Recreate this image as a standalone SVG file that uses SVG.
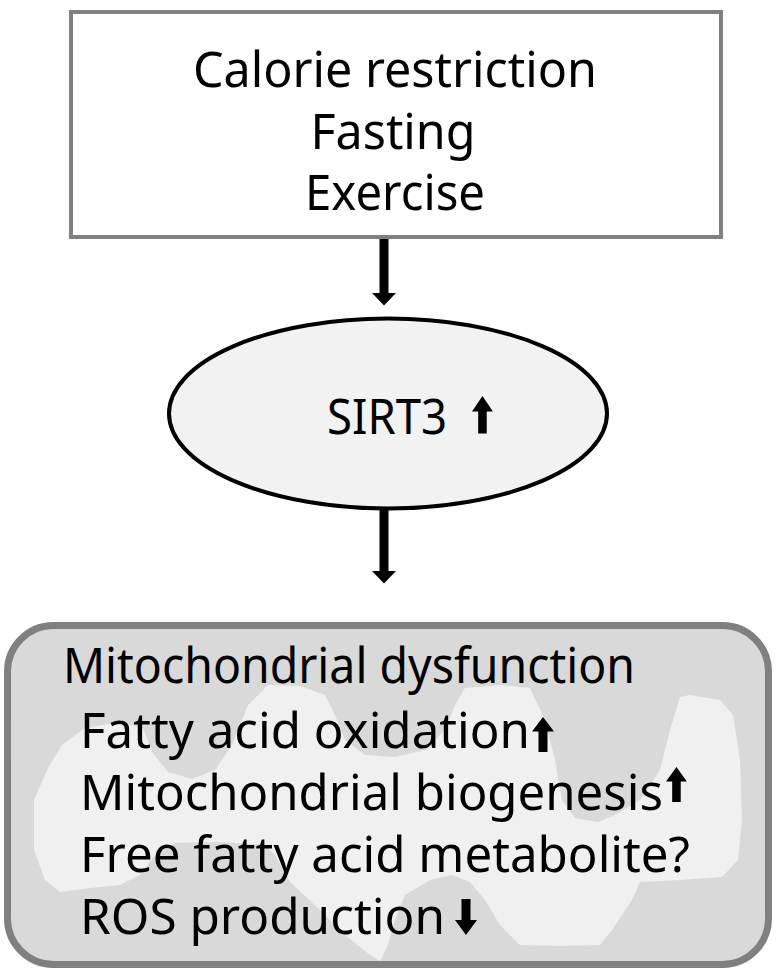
<svg xmlns="http://www.w3.org/2000/svg" xmlns:xlink="http://www.w3.org/1999/xlink" width="776" height="975" viewBox="0 0 776 975">
<style>
  .t { font-family: "Noto Sans", "Open Sans", "Liberation Sans", sans-serif; fill: #000; }
  .conn { stroke: #000; stroke-width: 9; fill: none; }
</style>
<defs>
  <marker id="head" markerUnits="userSpaceOnUse" markerWidth="14" markerHeight="26" refX="0" refY="12" orient="auto" overflow="visible">
    <path d="M0,0 L12.5,12 L0,24 Z" fill="#000"/>
  </marker>
  <path id="arr-up" d="M11,0 L22,15 L15.5,15 L15.5,36 L6.5,36 L6.5,15 L0,15 Z" fill="#000"/>
</defs>
<rect width="776" height="975" fill="#fff"/>

<g id="node-inputs">
  <rect x="71" y="12" width="650" height="225" fill="#fff" stroke="#808080" stroke-width="4"/>
  <text class="t" x="395" y="87" font-size="50" text-anchor="middle" textLength="404" lengthAdjust="spacingAndGlyphs">Calorie restriction</text>
  <text class="t" x="393" y="148.5" font-size="50" text-anchor="middle" textLength="165" lengthAdjust="spacingAndGlyphs">Fasting</text>
  <text class="t" x="395" y="210" font-size="50" text-anchor="middle" textLength="180" lengthAdjust="spacingAndGlyphs">Exercise</text>
</g>

<g id="node-sirt3">
  <ellipse cx="388" cy="413.5" rx="219" ry="95" fill="#f2f2f2" stroke="#000" stroke-width="4"/>
  <text class="t" x="327" y="434" font-size="50" textLength="120" lengthAdjust="spacingAndGlyphs">SIRT3</text>
  <use xlink:href="#arr-up" transform="translate(472,396) scale(0.95,1.04)"/>
</g>

<g id="node-mito">
  <rect x="7.5" y="625.5" width="761" height="339" rx="46" ry="46" fill="#d9d9d9" stroke="#808080" stroke-width="7"/>
  <path fill="#f0f0f0" stroke="none" stroke-linejoin="round" d="M34,800 L48,768 L62,745 L85,728 L120,722 L143,728 L152,752 L168,772 L192,779 L215,770 L232,745 L248,705 L268,685 L300,686 L325,695 L335,715 L345,740 L365,755 L395,757 L425,750 L445,730 L455,705 L465,688 L500,685 L530,688 L545,720 L555,760 L562,800 L575,818 L598,822 L615,815 L640,800 L660,770 L670,730 L680,697 L690,695 L720,700 L733,715 L740,760 L742,820 L738,860 L722,877 L680,880 L640,882 L632,900 L612,930 L600,945 L560,946 L520,945 L500,925 L485,900 L470,882 L452,875 L430,880 L405,895 L395,920 L388,945 L380,961 L370,955 L345,935 L320,910 L290,882 L275,855 L265,845 L220,842 L175,843 L155,855 L140,875 L120,885 L90,888 L60,892 L45,880 L34,850 Z"/>
  <text class="t" x="63" y="683" font-size="49" textLength="572" lengthAdjust="spacingAndGlyphs">Mitochondrial dysfunction</text>
  <text class="t" x="80" y="748" font-size="49" textLength="450" lengthAdjust="spacingAndGlyphs">Fatty acid oxidation</text>
  <use xlink:href="#arr-up" transform="translate(532,717) scale(1,0.97)"/>
  <text class="t" x="80" y="810" font-size="49" textLength="583" lengthAdjust="spacingAndGlyphs">Mitochondrial biogenesis</text>
  <use xlink:href="#arr-up" transform="translate(666,767) scale(0.95,0.97)"/>
  <text class="t" x="80" y="872" font-size="49" textLength="610" lengthAdjust="spacingAndGlyphs">Free fatty acid metabolite?</text>
  <text class="t" x="80" y="934" font-size="49" textLength="365" lengthAdjust="spacingAndGlyphs">ROS production</text>
  <use xlink:href="#arr-up" transform="translate(477,935) rotate(180)"/>
</g>

<g id="connectors">
  <line class="conn" x1="384" y1="239" x2="384" y2="293" marker-end="url(#head)"/>
  <line class="conn" x1="384" y1="510" x2="384" y2="571" marker-end="url(#head)"/>
</g>
</svg>
